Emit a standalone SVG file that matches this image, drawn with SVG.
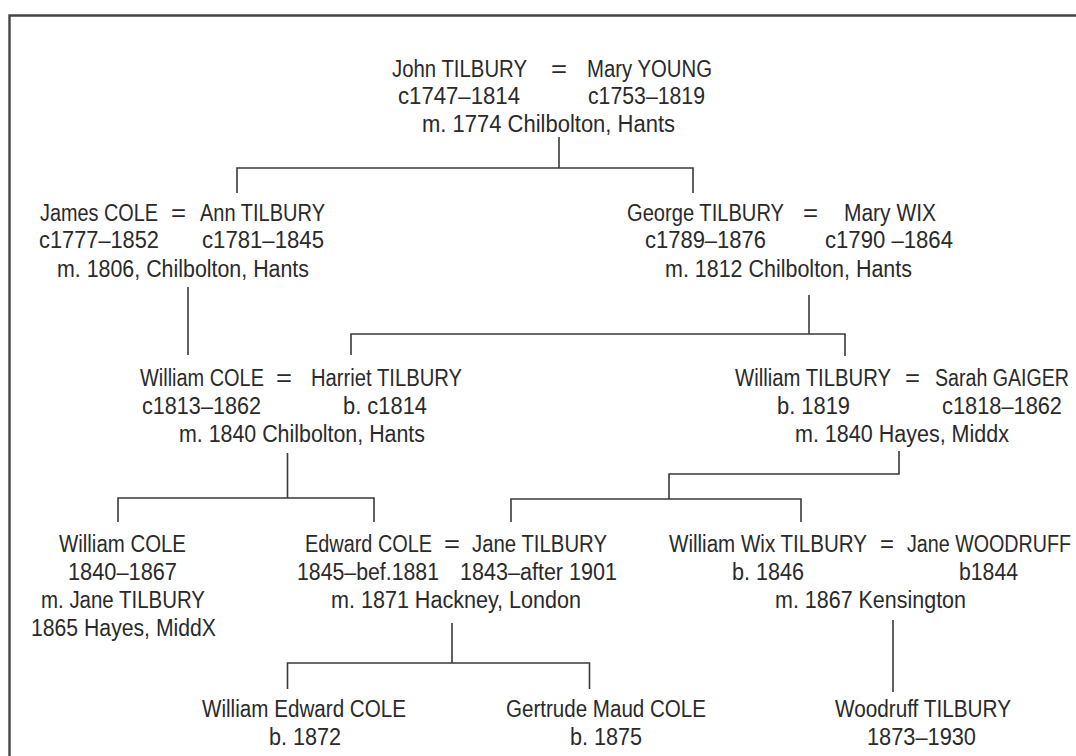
<svg xmlns="http://www.w3.org/2000/svg" width="1076" height="756" viewBox="0 0 1076 756">
<style>
.t{font-family:"Liberation Sans",Arial,Helvetica,sans-serif;font-size:20px;fill:#2a2a2a;}
.c{fill:none;stroke:#3a3a3a;stroke-width:1.6;}
.f{fill:none;stroke:#444;stroke-width:2.4;}
</style>
<rect x="0" y="0" width="1076" height="756" fill="#ffffff"/>
<path class="f" d="M9.5,756 V15.5 H1076"/>
<g id="connectors">
<path class="c" d="M559,137 V168 M237,193 V168 H693 V193"/>
<path class="c" d="M188,287 V355"/>
<path class="c" d="M809,295 V334 M351,355 V334 H845 V356"/>
<path class="c" d="M287.5,453 V498 M118,522 V498 H374 V522"/>
<path class="c" d="M899,451 V474 H669 V499 M511,522 V499 H801 V522"/>
<path class="c" d="M452,623 V663 M287.5,689 V663 H589.5 V689"/>
<path class="c" d="M893,620 V692"/>
</g>
<g id="john-mary" transform="scale(1,1.15)">
<text class="t" x="392" y="66.96" textLength="135" lengthAdjust="spacingAndGlyphs">John TILBURY</text>
<text class="t" x="551" y="66.96" textLength="16" lengthAdjust="spacingAndGlyphs">=</text>
<text class="t" x="587" y="66.96" textLength="125" lengthAdjust="spacingAndGlyphs">Mary YOUNG</text>
<text class="t" x="398" y="90.43" textLength="122" lengthAdjust="spacingAndGlyphs">c1747–1814</text>
<text class="t" x="588" y="90.43" textLength="117" lengthAdjust="spacingAndGlyphs">c1753–1819</text>
<text class="t" x="422" y="114.78" textLength="253" lengthAdjust="spacingAndGlyphs">m. 1774 Chilbolton, Hants</text>
</g>
<g id="james-ann" transform="scale(1,1.15)">
<text class="t" x="40" y="192.17" textLength="118" lengthAdjust="spacingAndGlyphs">James COLE</text>
<text class="t" x="171" y="192.17" textLength="15" lengthAdjust="spacingAndGlyphs">=</text>
<text class="t" x="200" y="192.17" textLength="125" lengthAdjust="spacingAndGlyphs">Ann TILBURY</text>
<text class="t" x="39" y="215.65" textLength="120" lengthAdjust="spacingAndGlyphs">c1777–1852</text>
<text class="t" x="202" y="215.65" textLength="122" lengthAdjust="spacingAndGlyphs">c1781–1845</text>
<text class="t" x="57" y="240.87" textLength="252" lengthAdjust="spacingAndGlyphs">m. 1806, Chilbolton, Hants</text>
</g>
<g id="george-mary" transform="scale(1,1.15)">
<text class="t" x="627" y="192.17" textLength="157" lengthAdjust="spacingAndGlyphs">George TILBURY</text>
<text class="t" x="803" y="192.17" textLength="15" lengthAdjust="spacingAndGlyphs">=</text>
<text class="t" x="844" y="192.17" textLength="92" lengthAdjust="spacingAndGlyphs">Mary WIX</text>
<text class="t" x="645" y="215.65" textLength="121" lengthAdjust="spacingAndGlyphs">c1789–1876</text>
<text class="t" x="825" y="215.65" textLength="128" lengthAdjust="spacingAndGlyphs">c1790 –1864</text>
<text class="t" x="665" y="240.87" textLength="247" lengthAdjust="spacingAndGlyphs">m. 1812 Chilbolton, Hants</text>
</g>
<g id="william-harriet" transform="scale(1,1.15)">
<text class="t" x="140" y="335.65" textLength="124" lengthAdjust="spacingAndGlyphs">William COLE</text>
<text class="t" x="276" y="335.65" textLength="16" lengthAdjust="spacingAndGlyphs">=</text>
<text class="t" x="311" y="335.65" textLength="151" lengthAdjust="spacingAndGlyphs">Harriet TILBURY</text>
<text class="t" x="142" y="360" textLength="119" lengthAdjust="spacingAndGlyphs">c1813–1862</text>
<text class="t" x="343" y="360" textLength="84" lengthAdjust="spacingAndGlyphs">b. c1814</text>
<text class="t" x="179" y="384.35" textLength="246" lengthAdjust="spacingAndGlyphs">m. 1840 Chilbolton, Hants</text>
</g>
<g id="william-sarah" transform="scale(1,1.15)">
<text class="t" x="735" y="335.65" textLength="156" lengthAdjust="spacingAndGlyphs">William TILBURY</text>
<text class="t" x="905" y="335.65" textLength="15" lengthAdjust="spacingAndGlyphs">=</text>
<text class="t" x="1069" y="335.65" text-anchor="end" textLength="134" lengthAdjust="spacingAndGlyphs">Sarah GAIGER</text>
<text class="t" x="777" y="360" textLength="73" lengthAdjust="spacingAndGlyphs">b. 1819</text>
<text class="t" x="942" y="360" textLength="120" lengthAdjust="spacingAndGlyphs">c1818–1862</text>
<text class="t" x="795" y="384.35" textLength="214" lengthAdjust="spacingAndGlyphs">m. 1840 Hayes, Middx</text>
</g>
<g id="william-cole-1840" transform="scale(1,1.15)">
<text class="t" x="59" y="480" textLength="127" lengthAdjust="spacingAndGlyphs">William COLE</text>
<text class="t" x="68" y="504.35" textLength="109" lengthAdjust="spacingAndGlyphs">1840–1867</text>
<text class="t" x="41" y="528.7" textLength="164" lengthAdjust="spacingAndGlyphs">m. Jane TILBURY</text>
<text class="t" x="31" y="553.04" textLength="185" lengthAdjust="spacingAndGlyphs">1865 Hayes, MiddX</text>
</g>
<g id="edward-jane" transform="scale(1,1.15)">
<text class="t" x="305" y="480" textLength="127" lengthAdjust="spacingAndGlyphs">Edward COLE</text>
<text class="t" x="444" y="480" textLength="16" lengthAdjust="spacingAndGlyphs">=</text>
<text class="t" x="472" y="480" textLength="135" lengthAdjust="spacingAndGlyphs">Jane TILBURY</text>
<text class="t" x="297" y="504.35" textLength="142" lengthAdjust="spacingAndGlyphs">1845–bef.1881</text>
<text class="t" x="460" y="504.35" textLength="157" lengthAdjust="spacingAndGlyphs">1843–after 1901</text>
<text class="t" x="331" y="528.7" textLength="250" lengthAdjust="spacingAndGlyphs">m. 1871 Hackney, London</text>
</g>
<g id="williamwix-jane" transform="scale(1,1.15)">
<text class="t" x="669" y="480" textLength="198" lengthAdjust="spacingAndGlyphs">William Wix TILBURY</text>
<text class="t" x="880" y="480" textLength="14" lengthAdjust="spacingAndGlyphs">=</text>
<text class="t" x="1071" y="480" text-anchor="end" textLength="164" lengthAdjust="spacingAndGlyphs">Jane WOODRUFF</text>
<text class="t" x="732" y="504.35" textLength="72" lengthAdjust="spacingAndGlyphs">b. 1846</text>
<text class="t" x="959" y="504.35" textLength="59" lengthAdjust="spacingAndGlyphs">b1844</text>
<text class="t" x="775" y="528.7" textLength="191" lengthAdjust="spacingAndGlyphs">m. 1867 Kensington</text>
</g>
<g id="william-edward" transform="scale(1,1.15)">
<text class="t" x="202" y="623.48" textLength="204" lengthAdjust="spacingAndGlyphs">William Edward COLE</text>
<text class="t" x="269" y="647.83" textLength="72" lengthAdjust="spacingAndGlyphs">b. 1872</text>
</g>
<g id="gertrude" transform="scale(1,1.15)">
<text class="t" x="506" y="623.48" textLength="200" lengthAdjust="spacingAndGlyphs">Gertrude Maud COLE</text>
<text class="t" x="570" y="647.83" textLength="72" lengthAdjust="spacingAndGlyphs">b. 1875</text>
</g>
<g id="woodruff" transform="scale(1,1.15)">
<text class="t" x="835" y="623.48" textLength="176" lengthAdjust="spacingAndGlyphs">Woodruff TILBURY</text>
<text class="t" x="867" y="647.83" textLength="109" lengthAdjust="spacingAndGlyphs">1873–1930</text>
</g>
</svg>
